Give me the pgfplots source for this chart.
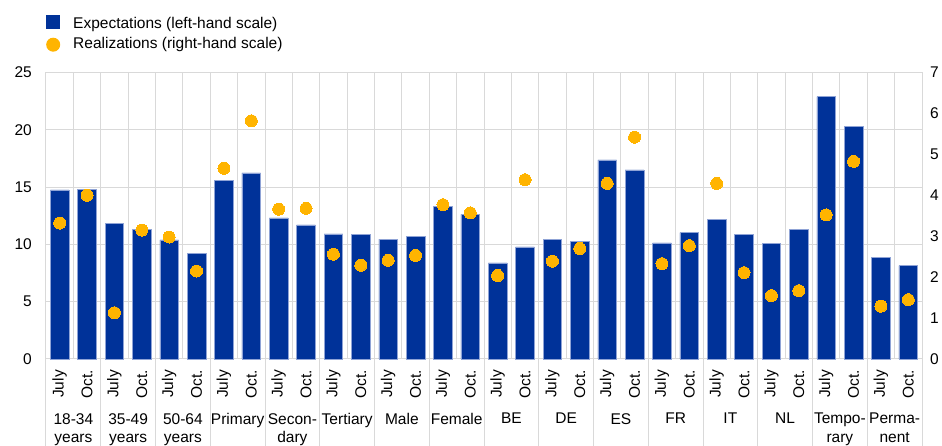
\documentclass[border=0pt]{standalone}
\usepackage{fontspec}
\setmainfont{Liberation Sans}
\usepackage{graphicx}
\usepackage{pgfplots}
\pgfplotsset{compat=1.18}
\definecolor{ecbblue}{HTML}{003299}
\definecolor{ecbedge}{HTML}{8FA3D6}
\definecolor{ecbyellow}{HTML}{FFB400}
\definecolor{gridgrey}{HTML}{D9D9D9}
\newcommand\Jl{\rotatebox{90}{July}}
\newcommand\Oc{\rotatebox{90}{Oct.}}
\newcommand\fs{\fontsize{15.5}{18.7}\selectfont}
\begin{document}
\begin{tikzpicture}[font=\fs]
\begin{axis}[
  name=main,
  scale only axis, width=876pt, height=286.5pt,
  xmin=-0.5, xmax=31.5, ymin=0, ymax=25,
  clip=false,
  axis line style={gridgrey, line width=1pt},
  xtick={0,...,31},
  xticklabels={\Jl,\Oc,\Jl,\Oc,\Jl,\Oc,\Jl,\Oc,\Jl,\Oc,\Jl,\Oc,\Jl,\Oc,\Jl,\Oc,\Jl,\Oc,\Jl,\Oc,\Jl,\Oc,\Jl,\Oc,\Jl,\Oc,\Jl,\Oc,\Jl,\Oc,\Jl,\Oc},
  xticklabel style={anchor=north, inner sep=0pt, yshift=-11pt, font=\fs},
  minor xtick={-0.5,0.5,...,31.5},
  minor x grid style={gridgrey, line width=1pt},
  xminorgrids=true,
  extra x ticks={0.5,2.5,...,30.5},
  extra x tick labels={{18-34\\years},{35-49\\years},{50-64\\years},Primary,{Secon-\\dary},Tertiary,Male,Female,BE,DE,ES,FR,IT,NL,{Tempo-\\rary},{Perma-\\nent}},
  extra x tick style={grid=none, major tick length=0pt, xticklabel style={align=center, yshift=-43pt}},
  major tick length=0pt, minor tick length=0pt,
  ytick={0,5,...,25},
  ymajorgrids=true,
  major grid style={gridgrey, line width=1pt},
  yticklabel style={anchor=east, inner sep=0pt, xshift=-14pt, font=\fs},
  /pgf/number format/assume math mode=true,
  legend style={draw=none, fill=none, inner sep=0pt, at={(0,1)}, anchor=north west, yshift=58pt,
    font=\fs, nodes={inner sep=0pt, anchor=base west, text height=11pt, text depth=4pt},
    column sep=13pt, row sep=5pt},
  legend cell align=left,
]
\pgfplotsinvokeforeach{-0.5,1.5,...,31.5}{
  \draw[gridgrey, line width=1pt] (axis cs:#1,0) -- ++(0pt,-90pt);
}
\addlegendimage{ecbblue, draw=none, legend image code/.code={%
    \path[draw=none, fill=none] (0pt,-4pt) rectangle (14pt,11pt);
    \path[draw=none, fill=ecbblue] (0pt,0pt) rectangle (14pt,14pt);}}
\addlegendentry{Expectations (left-hand scale)}
\addlegendimage{ecbyellow, draw=none, legend image code/.code={%
    \path[draw=none, fill=none] (0pt,-4pt) rectangle (14pt,11pt);
    \path[draw=none, fill=ecbyellow] (7pt,4.3pt) circle[radius=7pt];}}
\addlegendentry{Realizations (right-hand scale)}
\addplot[forget plot, ybar, bar width=18.7pt, fill=ecbblue, draw=ecbedge, line width=0.6pt]
coordinates {
(0,14.76) (1,14.81) (2,11.85) (3,11.32) (4,10.39) (5,9.23) (6,15.6) (7,16.24)
(8,12.31) (9,11.70) (10,10.91) (11,10.88) (12,10.45) (13,10.71) (14,13.33) (15,12.63)
(16,8.38) (17,9.78) (18,10.45) (19,10.24) (20,17.37) (21,16.50) (22,10.13) (23,11.03)
(24,12.17) (25,10.88) (26,10.10) (27,11.32) (28,22.9) (29,20.31) (30,8.85) (31,8.15)
};
\end{axis}
\begin{axis}[
  scale only axis, width=876pt, height=286.5pt,
  xmin=-0.5, xmax=31.5, ymin=0, ymax=7,
  axis x line=none, axis y line*=right,
  axis line style={gridgrey, line width=1pt},
  ytick={0,...,7},
  major tick length=0pt,
  yticklabel style={anchor=west, inner sep=0pt, xshift=8pt, font=\fs},
  /pgf/number format/assume math mode=true,
  clip=false,
]
\addplot[color=ecbyellow, only marks, mark=*, mark size=6pt, mark options={fill=ecbyellow, draw=ecbyellow, line width=0pt}]
coordinates {
(0,3.32) (1,4.00) (2,1.13) (3,3.15) (4,2.98) (5,2.15) (6,4.66) (7,5.82)
(8,3.66) (9,3.68) (10,2.56) (11,2.29) (12,2.41) (13,2.53) (14,3.77) (15,3.57)
(16,2.04) (17,4.38) (18,2.39) (19,2.70) (20,4.29) (21,5.42) (22,2.33) (23,2.77)
(24,4.29) (25,2.11) (26,1.55) (27,1.67) (28,3.52) (29,4.83) (30,1.29) (31,1.45)
};
\end{axis}
\pgfresetboundingbox
\useasboundingbox (-46pt,-87pt) rectangle (896pt,359pt);
\end{tikzpicture}
\end{document}
